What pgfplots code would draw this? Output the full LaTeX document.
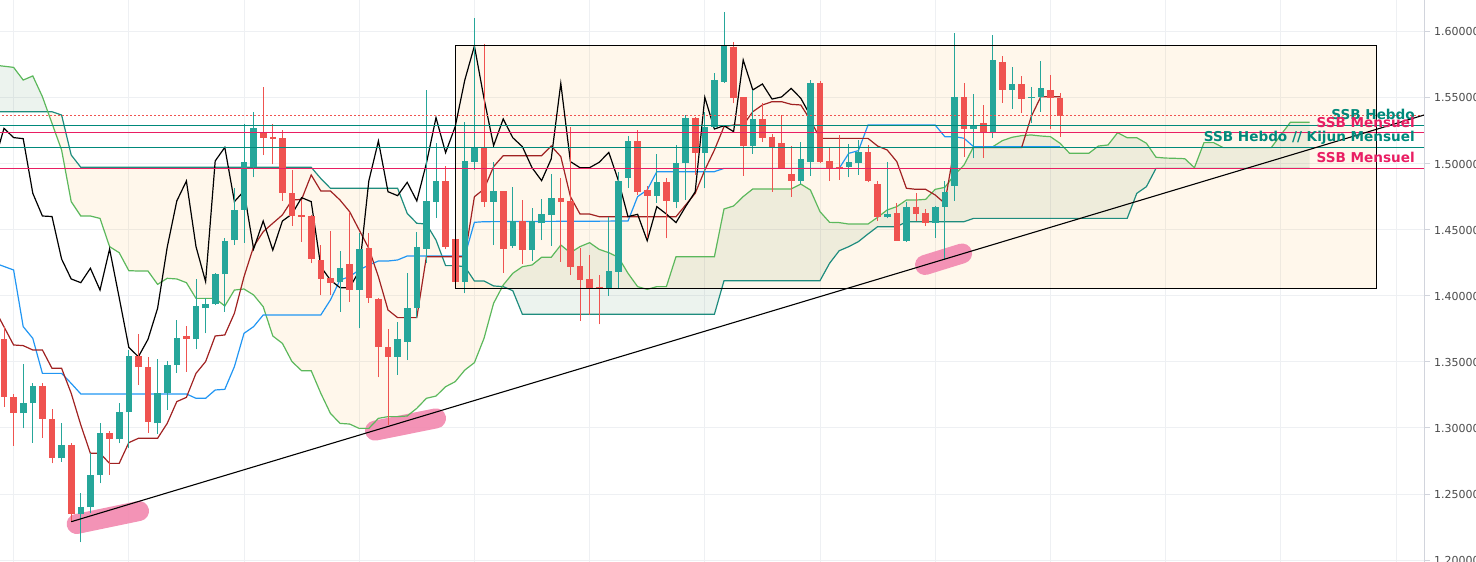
\documentclass[border=0pt]{standalone}
\usepackage{pgfplots}
\pgfplotsset{compat=1.18}
\usepackage{pgfplotstable}
\usepackage{fontspec}
\setmainfont{DejaVu Sans}

\definecolor{upc}{HTML}{26A69A}
\definecolor{dnc}{HTML}{EF5350}
\definecolor{tenkan}{HTML}{A02222}
\definecolor{kijun}{HTML}{2196F3}
\definecolor{spanA}{HTML}{5CB85C}
\definecolor{spanB}{HTML}{1E8C7E}
\definecolor{hteal}{HTML}{00897B}
\definecolor{hpink}{HTML}{E91E63}
\definecolor{gridc}{HTML}{EEF0F3}
\definecolor{axc}{HTML}{D1D4DC}
\definecolor{txt}{HTML}{4A4A4A}
\definecolor{mk}{HTML}{F28DB2}
\definecolor{bull}{RGB}{110,160,120}
\definecolor{bear}{HTML}{FF9800}

\pgfplotstableread{
i d O H L C
0 0 1.3672 1.3768 1.3162 1.3232
1 0 1.3232 1.3255 1.2866 1.3111
2 1 1.3111 1.3485 1.2998 1.3187
3 1 1.3187 1.3338 1.2889 1.3318
4 0 1.3318 1.3338 1.2927 1.3066
5 0 1.3066 1.3141 1.2732 1.2770
6 1 1.2770 1.3040 1.2745 1.2871
7 0 1.2871 1.2889 1.2290 1.2346
8 1 1.2346 1.2505 1.2134 1.2399
9 1 1.2399 1.2808 1.2354 1.2644
10 1 1.2644 1.3035 1.2581 1.2960
11 0 1.2960 1.2977 1.2644 1.2914
12 1 1.2914 1.3187 1.2884 1.3124
13 1 1.3119 1.3591 1.2846 1.3545
14 0 1.3545 1.3712 1.3326 1.3460
15 0 1.3460 1.3540 1.2965 1.3043
16 1 1.3035 1.3523 1.2955 1.3263
17 1 1.3263 1.3508 1.3136 1.3477
18 1 1.3477 1.3818 1.3419 1.3679
19 0 1.3697 1.3773 1.3427 1.3672
20 1 1.3672 1.4126 1.3596 1.3924
21 1 1.3907 1.3987 1.3717 1.3937
22 1 1.3937 1.4175 1.3930 1.4167
23 1 1.4164 1.4437 1.3881 1.4417
24 1 1.4424 1.4816 1.4386 1.4652
25 1 1.4652 1.5303 1.4404 1.5018
26 1 1.4975 1.5397 1.4899 1.5270
27 0 1.5245 1.5586 1.5068 1.5200
28 0 1.5207 1.5303 1.4998 1.5192
29 0 1.5195 1.5258 1.4722 1.4778
30 0 1.4778 1.4955 1.4530 1.4606
31 0 1.4610 1.4727 1.4412 1.4602
32 0 1.4606 1.4610 1.4248 1.4280
33 0 1.4273 1.4386 1.4008 1.4129
34 0 1.4134 1.4495 1.4008 1.4101
35 1 1.4104 1.4341 1.3881 1.4210
36 0 1.4242 1.4639 1.3957 1.4045
37 1 1.4045 1.4475 1.3755 1.4356
38 0 1.4361 1.4475 1.3950 1.3987
39 0 1.3977 1.3985 1.3384 1.3611
40 0 1.3611 1.3747 1.3023 1.3540
41 1 1.3540 1.3803 1.3402 1.3672
42 1 1.3654 1.4172 1.3515 1.3907
43 1 1.3907 1.4487 1.3831 1.4369
44 1 1.4356 1.5561 1.4248 1.4720
45 1 1.4715 1.5157 1.4593 1.4871
46 0 1.4871 1.4985 1.4354 1.4374
47 0 1.4432 1.4435 1.4105 1.4109
48 1 1.4109 1.5321 1.4020 1.5023
49 1 1.5018 1.6106 1.4955 1.5126
50 0 1.5126 1.5910 1.4677 1.4715
51 1 1.4715 1.5018 1.4386 1.4795
52 0 1.4795 1.4795 1.4177 1.4356
53 1 1.4379 1.4828 1.4361 1.4568
54 0 1.4568 1.4727 1.4242 1.4348
55 1 1.4348 1.4664 1.4268 1.4568
56 1 1.4550 1.4732 1.4424 1.4621
57 1 1.4614 1.4924 1.4379 1.4745
58 0 1.4745 1.4891 1.4260 1.4715
59 0 1.4720 1.5283 1.4159 1.4222
60 0 1.4227 1.4361 1.3813 1.4121
61 0 1.4131 1.4311 1.3856 1.4063
62 0 1.4071 1.4160 1.3785 1.4063
63 1 1.4063 1.4601 1.4003 1.4189
64 1 1.4184 1.4942 1.4050 1.4871
65 1 1.4896 1.5212 1.4821 1.5174
66 0 1.5174 1.5258 1.4765 1.4790
67 0 1.4803 1.4833 1.4437 1.4760
68 1 1.4760 1.5076 1.4707 1.4861
69 0 1.4861 1.4891 1.4437 1.4720
70 1 1.4715 1.5144 1.4664 1.5005
71 1 1.5005 1.5371 1.4727 1.5351
72 0 1.5351 1.5359 1.4917 1.5086
73 1 1.5086 1.5397 1.4816 1.5283
74 1 1.5283 1.5687 1.5270 1.5636
75 1 1.5624 1.6152 1.5616 1.5894
76 0 1.5889 1.5927 1.5460 1.5497
77 0 1.5505 1.5505 1.4912 1.5139
78 1 1.5139 1.5561 1.5076 1.5341
79 0 1.5341 1.5460 1.5169 1.5199
80 0 1.5207 1.5227 1.4790 1.5131
81 0 1.5157 1.5371 1.4972 1.4972
82 0 1.4924 1.5136 1.4753 1.4874
83 1 1.4874 1.5169 1.4848 1.5038
84 1 1.5018 1.5636 1.4912 1.5611
85 0 1.5611 1.5631 1.5005 1.5018
86 0 1.5023 1.5124 1.4874 1.4972
87 0 1.4980 1.5220 1.4879 1.4972
88 1 1.4980 1.5149 1.4899 1.5013
89 1 1.5010 1.5182 1.4917 1.5088
90 0 1.5088 1.5144 1.4861 1.4874
91 0 1.4848 1.4874 1.4568 1.4601
92 1 1.4601 1.5013 1.4588 1.4619
93 0 1.4626 1.4707 1.4419 1.4419
94 1 1.4419 1.4715 1.4412 1.4677
95 0 1.4677 1.4778 1.4571 1.4621
96 0 1.4626 1.4657 1.4530 1.4556
97 1 1.4556 1.4680 1.4442 1.4677
98 1 1.4677 1.4874 1.4273 1.4790
99 1 1.4836 1.5990 1.4722 1.5505
100 0 1.5505 1.5616 1.5056 1.5265
101 1 1.5265 1.5530 1.5043 1.5290
102 0 1.5308 1.5447 1.5048 1.5245
103 1 1.5245 1.5977 1.5194 1.5788
104 0 1.5770 1.5818 1.5465 1.5561
105 1 1.5561 1.5732 1.5417 1.5606
106 0 1.5606 1.5667 1.5384 1.5492
107 1 1.5500 1.5586 1.5308 1.5508
108 1 1.5505 1.5780 1.5397 1.5573
109 0 1.5561 1.5674 1.5263 1.5498
110 0 1.5498 1.5536 1.5207 1.5366
}\candles

\pgfplotstableread{
x y
-0.5 1.3835
1 1.3629
2 1.3624
3 1.3591
4 1.3591
5 1.3452
6 1.3452
7 1.3263
8 1.3023
9 1.2808
10 1.2808
11 1.2732
12 1.2732
13 1.2889
14 1.2922
16 1.2922
17 1.3035
18 1.3200
19 1.3232
20 1.3414
21 1.3503
22 1.3697
23 1.3705
24 1.3869
25 1.4146
26 1.4374
27 1.4487
28 1.4551
29 1.4614
30 1.4727
31 1.4732
32 1.4917
33 1.4796
34 1.4796
35 1.4727
36 1.4639
37 1.4500
38 1.4361
39 1.4146
40 1.3894
41 1.3836
43 1.3836
44 1.4298
48 1.4298
49 1.4752
50 1.4810
51 1.4980
52 1.5063
56 1.5063
57 1.5136
58 1.5056
59 1.4753
60 1.4621
61 1.4621
62 1.4601
70 1.4601
71 1.4689
72 1.4778
73 1.4954
74 1.5106
75 1.5283
76 1.5295
77 1.5295
78 1.5396
79 1.5447
80 1.5472
81 1.5472
82 1.5452
83 1.5447
84 1.5333
85 1.5194
90 1.5194
91 1.5136
92 1.5106
93 1.5018
94 1.4816
95 1.4808
96 1.4808
97 1.4765
98 1.4702
99 1.5124
106 1.5124
107 1.5359
108 1.5510
110 1.5510
}\tenkan

\pgfplotstableread{
x y
-0.5 1.4237
1 1.4197
2 1.3768
3 1.3679
4 1.3414
6 1.3414
7 1.3338
8 1.3258
19 1.3258
20 1.3225
21 1.3225
22 1.3288
23 1.3293
24 1.3465
25 1.3717
26 1.3768
27 1.3856
33 1.3856
34 1.3970
35 1.4121
36 1.4147
37 1.4197
38 1.4235
39 1.4265
40 1.4265
41 1.4273
42 1.4303
48 1.4303
49 1.4558
50 1.4563
65 1.4568
66 1.4753
67 1.4803
68 1.4942
74 1.4942
75 1.4967
87 1.4967
88 1.5081
89 1.5101
90 1.5295
97 1.5295
98 1.5207
99 1.5207
100 1.5195
101 1.5131
110 1.5131
}\kijun

\pgfplotstableread{
x y
-0.5 1.5745
1 1.5732
2 1.5636
3 1.5667
4 1.5510
5 1.5308
6 1.5106
7 1.4715
8 1.4606
9 1.4606
10 1.4588
11 1.4374
12 1.4328
13 1.4192
14 1.4189
15 1.4189
16 1.4088
17 1.4134
18 1.4129
19 1.4101
20 1.3982
21 1.3982
22 1.3982
23 1.3924
24 1.4045
25 1.4053
26 1.4008
27 1.3919
28 1.3697
29 1.3641
30 1.3503
31 1.3434
32 1.3434
33 1.3263
34 1.3111
35 1.3035
36 1.3030
37 1.2997
38 1.2997
39 1.3073
40 1.3086
41 1.3086
42 1.3091
43 1.3149
44 1.3225
45 1.3242
46 1.3313
47 1.3351
48 1.3439
49 1.3495
50 1.3679
51 1.3945
52 1.4083
53 1.4172
54 1.4222
55 1.4235
56 1.4293
57 1.4293
58 1.4386
59 1.4328
60 1.4374
61 1.4404
62 1.4353
63 1.4328
64 1.4293
65 1.4172
66 1.4071
67 1.4050
68 1.4071
69 1.4071
70 1.4298
74 1.4298
75 1.4659
76 1.4682
77 1.4753
78 1.4811
82 1.4811
83 1.4848
84 1.4803
85 1.4639
86 1.4558
87 1.4556
88 1.4545
90 1.4545
91 1.4596
92 1.4652
93 1.4677
94 1.4727
95 1.4727
96 1.4732
97 1.4808
98 1.4823
99 1.4917
100 1.4992
101 1.5131
103 1.5131
104 1.5177
105 1.5202
106 1.5215
107 1.5220
108 1.5212
109 1.5207
110 1.5157
111 1.5081
113 1.5081
114 1.5136
115 1.5144
116 1.5237
117 1.5199
118 1.5199
119 1.5157
120 1.5051
121 1.5045
122 1.5043
123 1.5040
124 1.4972
125 1.5162
126 1.5162
127 1.5124
132 1.5124
133 1.5220
134 1.5316
136 1.5316
}\spanA

\pgfplotstableread{
x y
-0.5 1.5396
5 1.5396
6 1.5371
7 1.5068
8 1.4975
32 1.4975
33 1.4890
34 1.4816
41 1.4816
42 1.4626
43 1.4551
44 1.4545
45 1.4424
46 1.4230
47 1.4230
48 1.4222
49 1.4114
50 1.4114
51 1.4076
52 1.4071
53 1.4040
54 1.3861
74 1.3861
75 1.4116
85 1.4116
86 1.4248
87 1.4343
88 1.4374
89 1.4412
90 1.4470
91 1.4525
93 1.4525
94 1.4563
100 1.4563
101 1.4588
117 1.4588
118 1.4778
119 1.4828
120 1.4967
136 1.4967
}\spanB

\begin{document}
\begin{tikzpicture}
\useasboundingbox (0,0) rectangle (1476bp,562bp);
\begin{axis}[name=ax, at={(0,0)}, anchor=south west,
  width=1424bp, height=562bp, scale only axis,
  xmin=-0.4167, xmax=147.917, ymin=1.198485, ymax=1.624242,
  axis line style={draw=none},
  xtick={1,13,25,37,49,61,73,85,97,109,121,133,145}, xticklabels={},
  x tick style={draw=none},
  xmajorgrids, ymajorgrids, grid style={gridc, line width=1bp},
  ytick={1.2,1.25,1.3,1.35,1.4,1.45,1.5,1.55,1.6},
  ytick pos=right, yticklabel pos=right, tick align=outside,
  major tick length=6bp, y tick style={draw=axc, line width=1bp},
  scaled y ticks=false,
  y tick label style={/pgf/number format/fixed, /pgf/number format/fixed zerofill, /pgf/number format/precision=5, /pgf/number format/assume math mode=true, font=\fontsize{11bp}{13bp}\selectfont, text=txt, anchor=west, inner sep=0pt, xshift=4bp},
  colormap={candle}{color(0)=(dnc) color(1)=(upc)},
  point meta min=0, point meta max=1,
]
% cloud: bullish part (left)
\addplot[draw=none, fill=bull, fill opacity=0.13, forget plot] coordinates {
(-0.5,1.5745) (1,1.5732) (2,1.5636) (3,1.5667) (4,1.5510) (4.56,1.5396) (-0.5,1.5396)};
% cloud: bearish part
\addplot[draw=none, fill=bear, fill opacity=0.08, forget plot] coordinates {
(4.56,1.5396) (5,1.5396) (6,1.5371) (7,1.5068) (8,1.4975) (32,1.4975) (33,1.4890) (34,1.4816)
(41,1.4816) (42,1.4626) (43,1.4551) (44,1.4545) (45,1.4424) (46,1.4230) (47,1.4230) (48,1.4222)
(49,1.4114) (50,1.4114) (51,1.4076) (51.92,1.4072)
(51,1.3945) (50,1.3679) (49,1.3495) (48,1.3439) (47,1.3351) (46,1.3313) (45,1.3242) (44,1.3225)
(43,1.3149) (42,1.3091) (41,1.3086) (40,1.3086) (39,1.3073) (38,1.2997) (37,1.2997) (36,1.3030)
(35,1.3035) (34,1.3111) (33,1.3263) (32,1.3434) (31,1.3434) (30,1.3503) (29,1.3641) (28,1.3697)
(27,1.3919) (26,1.4008) (25,1.4053) (24,1.4045) (23,1.3924) (22,1.3982) (21,1.3982) (20,1.3982)
(19,1.4101) (18,1.4129) (17,1.4134) (16,1.4088) (15,1.4189) (14,1.4189) (13,1.4192) (12,1.4328)
(11,1.4374) (10,1.4588) (9,1.4606) (8,1.4606) (7,1.4715) (6,1.5106) (5,1.5308) (4.56,1.5396)};
% cloud: bullish part (right)
\addplot[draw=none, fill=bull, fill opacity=0.13, forget plot] coordinates {
(51.92,1.4072) (52,1.4083) (53,1.4172) (54,1.4222) (55,1.4235) (56,1.4293) (57,1.4293) (58,1.4386)
(59,1.4328) (60,1.4374) (61,1.4404) (62,1.4353) (63,1.4328) (64,1.4293) (65,1.4172) (66,1.4071)
(67,1.4050) (68,1.4071) (69,1.4071) (70,1.4298) (74,1.4298) (75,1.4659) (76,1.4682) (77,1.4753)
(78,1.4811) (82,1.4811) (83,1.4848) (84,1.4803) (85,1.4639) (86,1.4558) (87,1.4556) (88,1.4545)
(90,1.4545) (91,1.4596) (92,1.4652) (93,1.4677) (94,1.4727) (95,1.4727) (96,1.4732) (97,1.4808)
(98,1.4823) (99,1.4917) (100,1.4992) (101,1.5131) (103,1.5131) (104,1.5177) (105,1.5202) (106,1.5215)
(107,1.5220) (108,1.5212) (109,1.5207) (110,1.5157) (111,1.5081) (113,1.5081) (114,1.5136) (115,1.5144)
(116,1.5237) (117,1.5199) (118,1.5199) (119,1.5157) (120,1.5051) (121,1.5045) (122,1.5043) (123,1.5040)
(124,1.4972) (125,1.5162) (126,1.5162) (127,1.5124) (132,1.5124) (133,1.5220) (134,1.5316) (136,1.5316)
(136,1.4967) (120,1.4967) (119,1.4828) (118,1.4778) (117,1.4588) (101,1.4588) (100,1.4563) (94,1.4563)
(93,1.4525) (91,1.4525) (90,1.4470) (89,1.4412) (88,1.4374) (87,1.4343) (86,1.4248) (85,1.4116)
(75,1.4116) (74,1.3861) (54,1.3861) (53,1.4040) (52,1.4071) (51.92,1.4072)};
% rectangle fill
\addplot[draw=none, fill=bear, fill opacity=0.08, forget plot] coordinates {(47,1.4058) (143,1.4058) (143,1.5894) (47,1.5894) (47,1.4058)};
% pink markers
\addplot[mk, line width=20bp, line cap=round, opacity=0.95, forget plot] coordinates {(7.57,1.2273) (14.06,1.2371)};
\addplot[mk, line width=20bp, line cap=round, opacity=0.95, forget plot] coordinates {(38.65,1.2980) (45.0,1.3073)};
\addplot[mk, line width=20bp, line cap=round, opacity=0.95, forget plot] coordinates {(95.94,1.4235) (99.8,1.4322)};
% ichimoku lines
\addplot[spanB, line width=1.2bp, forget plot] table {\spanB};
\addplot[spanA, line width=1.2bp, forget plot] table {\spanA};
\addplot[kijun, line width=1.2bp, forget plot] table {\kijun};
\addplot[tenkan, line width=1.2bp, forget plot] table {\tenkan};
\addplot[black, line width=1.2bp, forget plot] table[x expr=\thisrow{i}-26, y=C] {\candles};
% candles: wicks (H-L) and bodies (O to C), colour from column d
\addplot[mark=none, line width=1bp, forget plot, point meta=\thisrow{d},
  quiver={u=0, v=\thisrow{H}-\thisrow{L}, colored, every arrow/.append style={line width=1bp}}]
  table[x=i, y=L] {\candles};
\addplot[mark=none, line width=6.6bp, forget plot, point meta=\thisrow{d},
  quiver={u=0, v=\thisrow{C}-\thisrow{O}, colored, every arrow/.append style={line width=6.6bp}}]
  table[x=i, y=O] {\candles};
% horizontal levels
\addplot[dnc, line width=1bp, dash pattern=on 1.5bp off 2.5bp, forget plot] coordinates {(-1,1.5371) (149,1.5371)};
\addplot[hteal, line width=1bp, forget plot] coordinates {(-1,1.5295) (149,1.5295)};
\addplot[hpink, line width=1bp, forget plot] coordinates {(-1,1.5236) (149,1.5236)};
\addplot[hteal, line width=1bp, forget plot] coordinates {(-1,1.5126) (149,1.5126)};
\addplot[hpink, line width=1bp, forget plot] coordinates {(-1,1.4967) (149,1.4967)};
% trendline and rectangle border
\addplot[black, line width=1.1bp, forget plot] coordinates {(7,1.2290) (147.92,1.5371)};
\addplot[black, line width=1bp, forget plot] coordinates {(47,1.4058) (143,1.4058) (143,1.5894) (47,1.5894) (47,1.4058)};
% labels
\node[anchor=base east, inner sep=0pt, text=hteal, font=\fontsize{13.6bp}{16bp}\selectfont\bfseries] at (axis cs:146.98,1.5339) {SSB Hebdo};
\node[anchor=base east, inner sep=0pt, text=hpink, font=\fontsize{13.6bp}{16bp}\selectfont\bfseries] at (axis cs:146.98,1.5280) {SSB Mensuel};
\node[anchor=base east, inner sep=0pt, text=hteal, font=\fontsize{13.6bp}{16bp}\selectfont\bfseries] at (axis cs:146.98,1.5169) {SSB Hebdo // Kijun Mensuel};
\node[anchor=base east, inner sep=0pt, text=hpink, font=\fontsize{13.6bp}{16bp}\selectfont\bfseries] at (axis cs:146.98,1.5015) {SSB Mensuel};
\end{axis}
\draw[axc, line width=1bp] (ax.south east) -- (ax.north east);
\end{tikzpicture}
\end{document}
